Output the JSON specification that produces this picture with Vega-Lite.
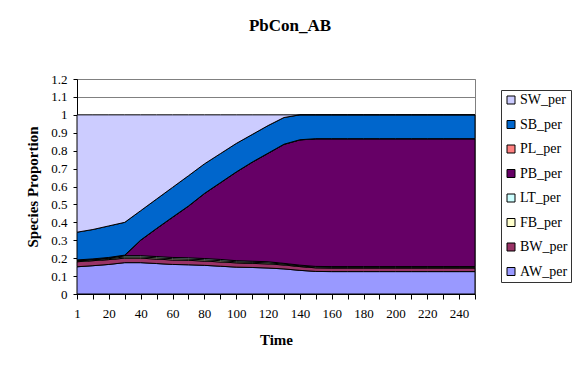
{
  "$schema": "https://vega.github.io/schema/vega-lite/v6.json",
  "width": 398,
  "height": 215,
  "autosize": {"type": "none"},
  "padding": {"left": 77, "top": 79, "right": 102, "bottom": 72},
  "background": "white",
  "title": {"text": "PbCon_AB", "font": "Liberation Serif", "fontSize": 17, "fontWeight": "bold", "color": "black", "anchor": "middle", "frame": "group", "dx": 14, "offset": 38},
  "data": {"values": [
    {"Time": 1, "AW_per": 0.152, "BW_per": 0.028, "FB_per": 0.004, "LT_per": 0.004, "PB_per": 0.0, "PL_per": 0.002, "SB_per": 0.155, "SW_per": 0.655},
    {"Time": 10, "AW_per": 0.158, "BW_per": 0.028, "FB_per": 0.004, "LT_per": 0.004, "PB_per": 0.0, "PL_per": 0.002, "SB_per": 0.164, "SW_per": 0.64},
    {"Time": 20, "AW_per": 0.165, "BW_per": 0.027, "FB_per": 0.005, "LT_per": 0.005, "PB_per": 0.0, "PL_per": 0.002, "SB_per": 0.176, "SW_per": 0.62},
    {"Time": 30, "AW_per": 0.175, "BW_per": 0.025, "FB_per": 0.007, "LT_per": 0.007, "PB_per": 0.001, "PL_per": 0.002, "SB_per": 0.183, "SW_per": 0.6},
    {"Time": 40, "AW_per": 0.175, "BW_per": 0.025, "FB_per": 0.007, "LT_per": 0.007, "PB_per": 0.086, "PL_per": 0.001, "SB_per": 0.164, "SW_per": 0.535},
    {"Time": 50, "AW_per": 0.17, "BW_per": 0.025, "FB_per": 0.007, "LT_per": 0.007, "PB_per": 0.156, "PL_per": 0.001, "SB_per": 0.164, "SW_per": 0.47},
    {"Time": 60, "AW_per": 0.165, "BW_per": 0.025, "FB_per": 0.007, "LT_per": 0.007, "PB_per": 0.224, "PL_per": 0.001, "SB_per": 0.166, "SW_per": 0.405},
    {"Time": 70, "AW_per": 0.163, "BW_per": 0.025, "FB_per": 0.007, "LT_per": 0.007, "PB_per": 0.288, "PL_per": 0.001, "SB_per": 0.169, "SW_per": 0.34},
    {"Time": 80, "AW_per": 0.16, "BW_per": 0.024, "FB_per": 0.007, "LT_per": 0.007, "PB_per": 0.362, "PL_per": 0.001, "SB_per": 0.165, "SW_per": 0.274},
    {"Time": 90, "AW_per": 0.155, "BW_per": 0.024, "FB_per": 0.007, "LT_per": 0.007, "PB_per": 0.427, "PL_per": 0.001, "SB_per": 0.162, "SW_per": 0.217},
    {"Time": 100, "AW_per": 0.15, "BW_per": 0.024, "FB_per": 0.006, "LT_per": 0.006, "PB_per": 0.494, "PL_per": 0.001, "SB_per": 0.159, "SW_per": 0.16},
    {"Time": 110, "AW_per": 0.148, "BW_per": 0.023, "FB_per": 0.006, "LT_per": 0.006, "PB_per": 0.552, "PL_per": 0.001, "SB_per": 0.154, "SW_per": 0.11},
    {"Time": 120, "AW_per": 0.145, "BW_per": 0.023, "FB_per": 0.006, "LT_per": 0.006, "PB_per": 0.605, "PL_per": 0.001, "SB_per": 0.154, "SW_per": 0.06},
    {"Time": 130, "AW_per": 0.14, "BW_per": 0.022, "FB_per": 0.005, "LT_per": 0.004, "PB_per": 0.664, "PL_per": 0.001, "SB_per": 0.149, "SW_per": 0.015},
    {"Time": 140, "AW_per": 0.132, "BW_per": 0.021, "FB_per": 0.004, "LT_per": 0.004, "PB_per": 0.699, "PL_per": 0.001, "SB_per": 0.139, "SW_per": 0.0},
    {"Time": 150, "AW_per": 0.126, "BW_per": 0.02, "FB_per": 0.004, "LT_per": 0.004, "PB_per": 0.712, "PL_per": 0.001, "SB_per": 0.133, "SW_per": 0.0},
    {"Time": 160, "AW_per": 0.125, "BW_per": 0.02, "FB_per": 0.004, "LT_per": 0.004, "PB_per": 0.713, "PL_per": 0.001, "SB_per": 0.133, "SW_per": 0.0},
    {"Time": 170, "AW_per": 0.125, "BW_per": 0.02, "FB_per": 0.004, "LT_per": 0.004, "PB_per": 0.713, "PL_per": 0.001, "SB_per": 0.133, "SW_per": 0.0},
    {"Time": 180, "AW_per": 0.125, "BW_per": 0.02, "FB_per": 0.004, "LT_per": 0.004, "PB_per": 0.713, "PL_per": 0.001, "SB_per": 0.133, "SW_per": 0.0},
    {"Time": 190, "AW_per": 0.125, "BW_per": 0.02, "FB_per": 0.004, "LT_per": 0.004, "PB_per": 0.713, "PL_per": 0.001, "SB_per": 0.133, "SW_per": 0.0},
    {"Time": 200, "AW_per": 0.125, "BW_per": 0.02, "FB_per": 0.004, "LT_per": 0.004, "PB_per": 0.713, "PL_per": 0.001, "SB_per": 0.133, "SW_per": 0.0},
    {"Time": 210, "AW_per": 0.125, "BW_per": 0.02, "FB_per": 0.004, "LT_per": 0.004, "PB_per": 0.713, "PL_per": 0.001, "SB_per": 0.133, "SW_per": 0.0},
    {"Time": 220, "AW_per": 0.125, "BW_per": 0.02, "FB_per": 0.004, "LT_per": 0.004, "PB_per": 0.713, "PL_per": 0.001, "SB_per": 0.133, "SW_per": 0.0},
    {"Time": 230, "AW_per": 0.125, "BW_per": 0.02, "FB_per": 0.004, "LT_per": 0.004, "PB_per": 0.713, "PL_per": 0.001, "SB_per": 0.133, "SW_per": 0.0},
    {"Time": 240, "AW_per": 0.125, "BW_per": 0.02, "FB_per": 0.004, "LT_per": 0.004, "PB_per": 0.713, "PL_per": 0.001, "SB_per": 0.133, "SW_per": 0.0},
    {"Time": 250, "AW_per": 0.125, "BW_per": 0.02, "FB_per": 0.004, "LT_per": 0.004, "PB_per": 0.713, "PL_per": 0.001, "SB_per": 0.133, "SW_per": 0.0}
  ]},
  "transform": [
    {"fold": ["AW_per", "BW_per", "FB_per", "LT_per", "PB_per", "PL_per", "SB_per", "SW_per"], "as": ["Species", "Proportion"]}
  ],
  "mark": {"type": "area", "stroke": "black", "strokeWidth": 1, "opacity": 1, "fillOpacity": 1},
  "encoding": {
    "x": {
      "field": "Time", "type": "ordinal", "sort": "ascending",
      "scale": {"type": "point", "padding": 0},
      "axis": {
        "title": "Time", "labelAngle": 0,
        "labelExpr": "datum.value == 1 || datum.value % 20 == 0 ? datum.label : ''",
        "labelFont": "Liberation Serif", "labelFontSize": 13, "labelColor": "black", "labelPadding": 8,
        "titleFont": "Liberation Serif", "titleFontSize": 15, "titleFontWeight": "bold", "titleColor": "black", "titlePadding": 12,
        "domainColor": "black", "tickColor": "black", "tickSize": 5, "grid": false
      }
    },
    "y": {
      "field": "Proportion", "type": "quantitative", "stack": "zero",
      "scale": {"domain": [0, 1.2], "nice": false},
      "axis": {
        "title": "Species Proportion", "values": [0, 0.1, 0.2, 0.3, 0.4, 0.5, 0.6, 0.7, 0.8, 0.9, 1, 1.1, 1.2], "format": ".1~f",
        "labelFont": "Liberation Serif", "labelFontSize": 13, "labelColor": "black", "labelPadding": 6,
        "titleFont": "Liberation Serif", "titleFontSize": 15, "titleFontWeight": "bold", "titleColor": "black", "titlePadding": 10,
        "domainColor": "black", "tickColor": "black", "tickSize": 4,
        "grid": true, "gridColor": "#808080", "gridWidth": 1
      }
    },
    "color": {
      "field": "Species", "type": "nominal", "sort": "descending",
      "scale": {
        "domain": ["SW_per", "SB_per", "PL_per", "PB_per", "LT_per", "FB_per", "BW_per", "AW_per"],
        "range": ["#CCCCFF", "#0066CC", "#FF8080", "#660066", "#CCFFFF", "#FFFFCC", "#993366", "#9999FF"]
      },
      "legend": {
        "title": null, "orient": "none", "legendX": 424, "legendY": 11,
        "padding": 3, "rowPadding": 10.5, "strokeColor": "#333333", "fillColor": "white",
        "symbolType": "square", "symbolSize": 64, "symbolStrokeColor": "black", "symbolStrokeWidth": 1, "symbolOpacity": 1,
        "labelFont": "Liberation Serif", "labelFontSize": 14, "labelColor": "black", "labelOffset": 2
      }
    },
    "order": {"field": "Species", "sort": "ascending"}
  },
  "config": {"view": {"stroke": "#808080", "strokeWidth": 1}, "axis": {"domainWidth": 1, "tickWidth": 1}}
}
